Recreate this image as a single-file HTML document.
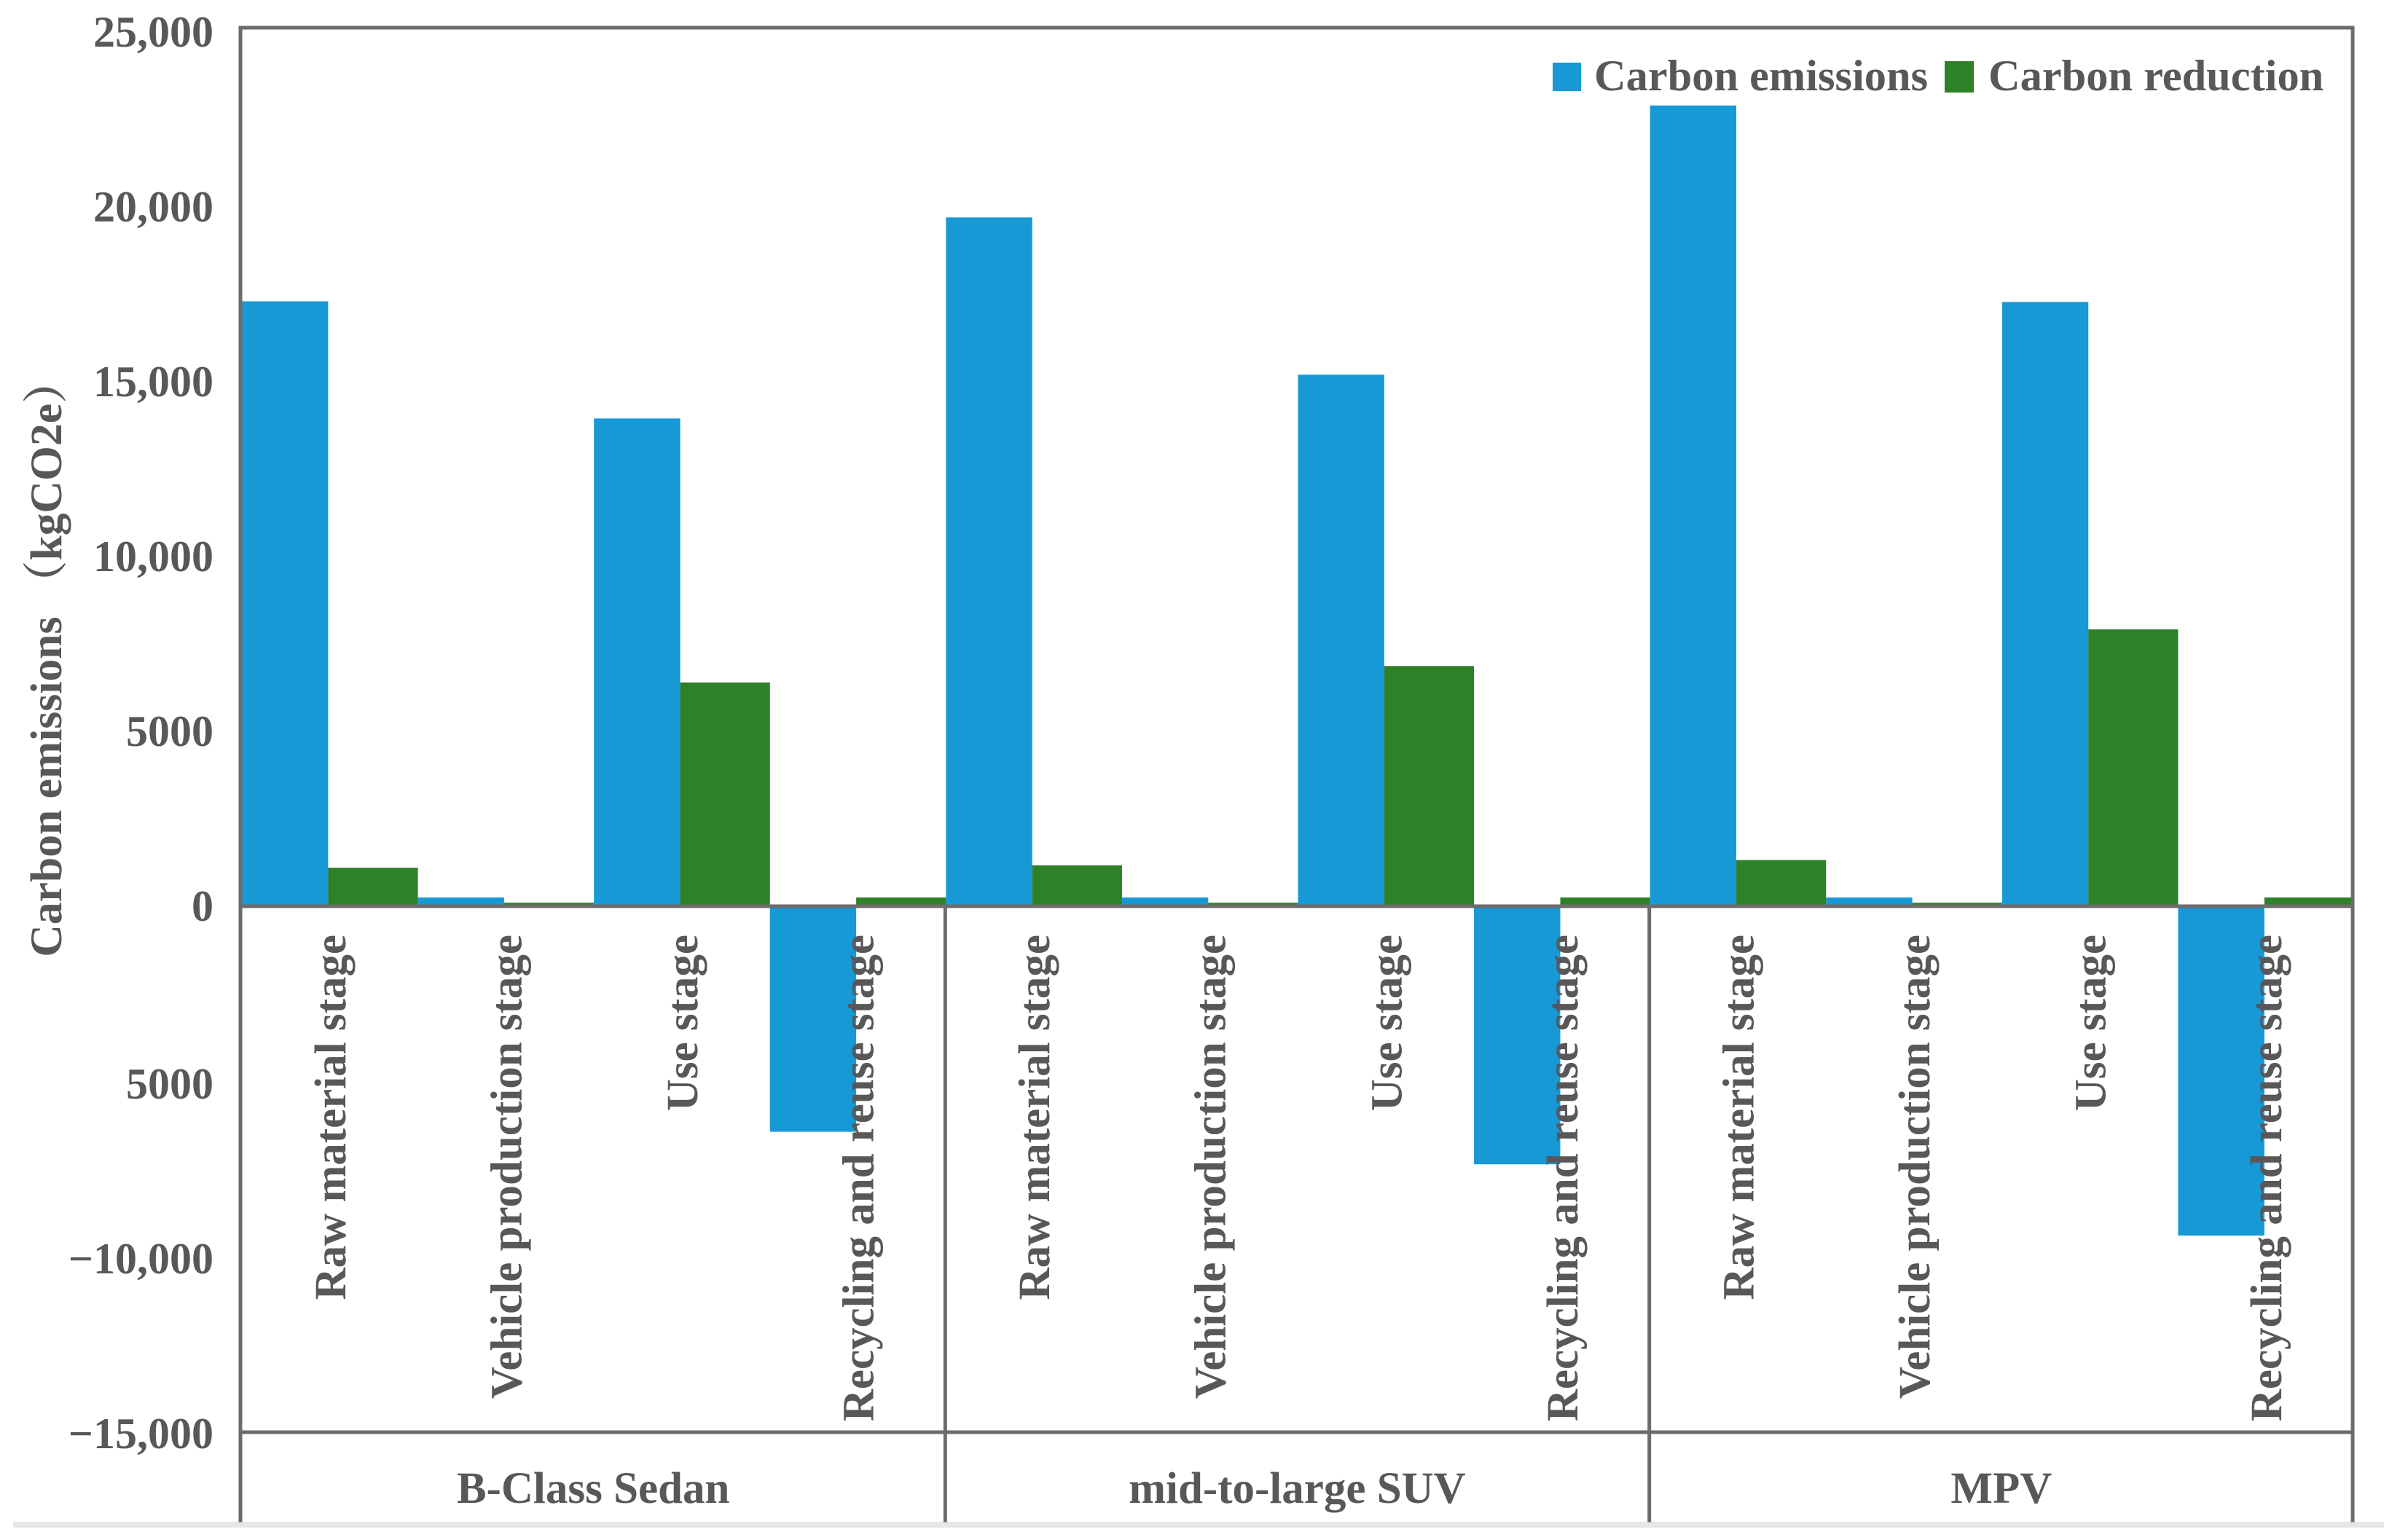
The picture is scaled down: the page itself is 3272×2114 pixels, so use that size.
<!DOCTYPE html>
<html lang="en">
<head>
<meta charset="utf-8">
<title>Carbon emissions by life-cycle stage</title>
<style>
  html, body { margin: 0; padding: 0; background: #fff; width: 3272px; height: 2114px; overflow: hidden; }
  svg { display: block; }
  text { font-family: "Liberation Serif", "Noto Serif CJK SC", serif; font-weight: bold; fill: #595757; }
</style>
</head>
<body>
<svg id="chart" xmlns="http://www.w3.org/2000/svg" width="3272" height="2114" viewBox="0 0 3272 2114">
  <rect x="0" y="0" width="3272" height="2114" fill="#ffffff"/>
  <rect x="18" y="2089" width="3254" height="8" fill="#e6e6e6"/>
  <g id="bars"></g>
  <g id="axes"></g>
  <g id="y-ticks"></g>
  <g id="cat-labels"></g>
  <g id="group-labels"></g>
  <text transform="translate(84,903) rotate(-90)" text-anchor="middle" font-size="61.6">Carbon emissions （kgCO2e）</text>
  <g>
    <rect x="2131" y="86" width="39" height="39" fill="#1799d6"/>
    <text x="2188" y="124" font-size="60.4">Carbon emissions</text>
    <rect x="2669" y="84" width="40" height="43" fill="#2e8029"/>
    <text x="2729" y="124" font-size="60.4">Carbon reduction</text>
  </g>
</svg>
<script>
const stages = ["Raw material stage", "Vehicle production stage", "Use stage", "Recycling and reuse stage"];
const groups = ["B-Class Sedan", "mid-to-large SUV", "MPV"];
const emissions = [17300, 250, 13950, -6450, 19700, 250, 15200, -7380, 22900, 250, 17280, -9420];
const reduction = [1100, 100, 6400, 250, 1170, 100, 6870, 250, 1320, 100, 7920, 250];
const tickValues = [25000, 20000, 15000, 10000, 5000, 0, -5000, -10000, -15000];
const tickLabels = ["25,000", "20,000", "15,000", "10,000", "5000", "0", "5000", "\u221210,000", "\u221215,000"];

const NS = "http://www.w3.org/2000/svg";
const left = 330, right = 3229, top_ = 38, bottom = 2087;
const zeroY = 1244, pxPerUnit = 0.048;
const barOffset = 2;
const catCount = stages.length * groups.length;
const catW = (right - left) / catCount;
const yOf = v => zeroY - v * pxPerUnit;
const xOfCat = i => left + i * catW;
const make = (tag, parent) => { const el = document.createElementNS(NS, tag); parent.appendChild(el); return el; };

const barsG = document.getElementById("bars");
function bar(x, w, v, fill) {
  const el = make("rect", barsG);
  el.setAttribute("x", x);
  el.setAttribute("width", w);
  el.setAttribute("y", Math.min(yOf(v), zeroY));
  el.setAttribute("height", Math.abs(v) * pxPerUnit);
  el.setAttribute("fill", fill);
  return el;
}
emissions.forEach((v, i) => {
  const el = bar(xOfCat(i) + (i === 0 ? 0 : barOffset), catW * 0.49 + (i === 0 ? barOffset : 0), v, "#1799d6");
  
  
});
reduction.forEach((v, i) => {
  const el = bar(xOfCat(i) + catW * 0.49 + barOffset, catW * 0.51, v, "#2e8029");
  
  
});

const axesG = document.getElementById("axes");
function line(x1, y1, x2, y2) {
  const el = make("line", axesG);
  el.setAttribute("x1", x1);
  el.setAttribute("y1", y1);
  el.setAttribute("x2", x2);
  el.setAttribute("y2", y2);
  el.setAttribute("stroke", "#6f6b6b");
  el.setAttribute("stroke-width", "5");
  el.setAttribute("stroke-linecap", "square");
  return el;
}
const catLineY = yOf(tickValues[tickValues.length - 1]) + 2;
[[left, top_, right, top_], [left, top_, left, bottom], [right, top_, right, bottom], [left, zeroY, right, zeroY], [left, catLineY, right, catLineY]].forEach(c => {
  const el = line(c[0], c[1], c[2], c[3]);
  
  
});
for (let g = 1; g < groups.length; g++) {
  const x = xOfCat(g * stages.length) + 1;
  const el = line(x, zeroY, x, bottom);
  
  
}

const tickG = document.getElementById("y-ticks");
tickValues.forEach((v, i) => {
  const el = make("text", tickG);
  
  
  el.setAttribute("x", 293);
  el.setAttribute("y", yOf(v) + 20 + (v < 0 ? 4 : 0));
  el.setAttribute("text-anchor", "end");
  el.setAttribute("font-size", "60");
  el.textContent = tickLabels[i];
});

const catG = document.getElementById("cat-labels");
for (let i = 0; i < catCount; i++) {
  const el = make("text", catG);
  
  
  const cx = xOfCat(i) + catW / 2 + 23;
  el.setAttribute("transform", "translate(" + cx + ",1283) rotate(-90)");
  el.setAttribute("text-anchor", "end");
  el.setAttribute("font-size", "61");
  el.textContent = stages[i % stages.length];
}

const groupG = document.getElementById("group-labels");
groups.forEach((name, g) => {
  const el = make("text", groupG);
  
  
  el.setAttribute("x", xOfCat(g * stages.length) + catW * stages.length / 2 + 1);
  el.setAttribute("y", 2063);
  el.setAttribute("text-anchor", "middle");
  el.setAttribute("font-size", "61");
  el.textContent = name;
});
</script>
</body>
</html>
